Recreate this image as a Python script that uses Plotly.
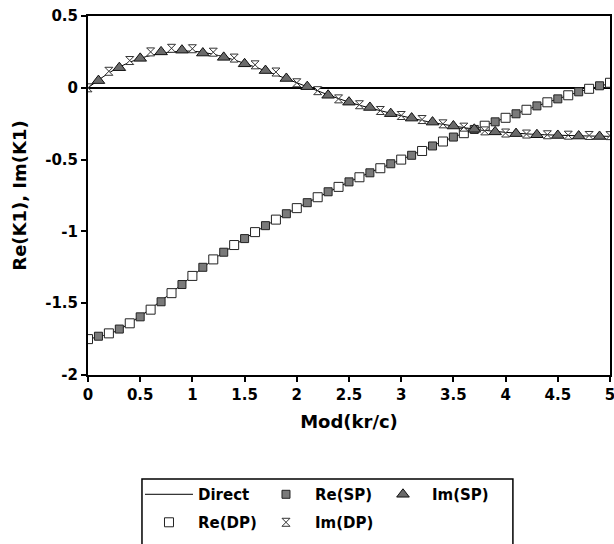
import plotly.graph_objects as go

# ---- data ----
x_sp = [0.1, 0.3, 0.5, 0.7, 0.9, 1.1, 1.3, 1.5, 1.7, 1.9, 2.1, 2.3, 2.5, 2.7, 2.9,
        3.1, 3.3, 3.5, 3.7, 3.9, 4.1, 4.3, 4.5, 4.7, 4.9]
re_sp = [-1.73, -1.68, -1.595, -1.49, -1.37, -1.25, -1.145, -1.05, -0.96, -0.877,
         -0.80, -0.724, -0.655, -0.592, -0.529, -0.47, -0.405, -0.343, -0.29, -0.237,
         -0.181, -0.126, -0.077, -0.028, 0.014]
im_sp = [0.05, 0.14, 0.205, 0.25, 0.262, 0.242, 0.212, 0.167, 0.12, 0.065,
         0.008, -0.052, -0.10, -0.137, -0.18, -0.211, -0.239, -0.266, -0.289, -0.307,
         -0.319, -0.327, -0.332, -0.336, -0.339]

x_dp = [0.0, 0.2, 0.4, 0.6, 0.8, 1.0, 1.2, 1.4, 1.6, 1.8, 2.0, 2.2, 2.4, 2.6, 2.8,
        3.0, 3.2, 3.4, 3.6, 3.8, 4.0, 4.2, 4.4, 4.6, 4.8, 5.0]
re_dp = [-1.75, -1.71, -1.64, -1.545, -1.43, -1.31, -1.195, -1.095, -1.005, -0.918,
         -0.838, -0.762, -0.69, -0.623, -0.56, -0.50, -0.44, -0.374, -0.316, -0.264,
         -0.209, -0.153, -0.101, -0.052, -0.007, 0.035]
im_dp = [0.0, 0.115, 0.19, 0.25, 0.275, 0.272, 0.248, 0.207, 0.16, 0.11,
         0.035, -0.02, -0.077, -0.118, -0.158, -0.193, -0.221, -0.251, -0.274, -0.30,
         -0.315, -0.322, -0.327, -0.33, -0.332, -0.333]

x_direct = [0.0, 0.25, 0.5, 0.75, 1.0, 1.25, 1.5, 1.75, 2.0, 2.25, 2.5, 2.75, 3.0,
            3.25, 3.5, 3.75, 4.0, 4.25, 4.5, 4.75, 5.0]
re_direct = [-1.75, -1.70, -1.59, -1.455, -1.31, -1.17, -1.05, -0.94, -0.838, -0.745,
             -0.655, -0.575, -0.50, -0.42, -0.343, -0.277, -0.209, -0.14, -0.077,
             -0.018, 0.03]
im_direct = [0.0, 0.125, 0.205, 0.245, 0.255, 0.225, 0.17, 0.105, 0.035, -0.035,
             -0.10, -0.15, -0.195, -0.235, -0.266, -0.292, -0.31, -0.323, -0.33,
             -0.335, -0.338]

x_ticks = [0, 0.5, 1, 1.5, 2, 2.5, 3, 3.5, 4, 4.5, 5]
x_ticktext = ["0", "0.5", "1", "1.5", "2", "2.5", "3", "3.5", "4", "4.5", "5"]
y_ticks = [-2, -1.5, -1, -0.5, 0, 0.5]
y_ticktext = ["-2", "-1.5", "-1", "-0.5", "0", "0.5"]

FONT = "DejaVu Sans"

fig = go.Figure()

# Direct solution lines
fig.add_trace(go.Scatter(x=x_direct, y=re_direct, mode="lines", name="Direct",
                         line=dict(color="black", width=1, shape="spline"),
                         legend="legend", legendrank=1))
fig.add_trace(go.Scatter(x=x_direct, y=im_direct, mode="lines", name="Direct",
                         line=dict(color="black", width=1, shape="spline"),
                         showlegend=False))

# DP markers
fig.add_trace(go.Scatter(x=x_dp, y=re_dp, mode="markers", name="Re(DP)",
                         marker=dict(symbol="square", size=9, color="white",
                                     line=dict(color="#222222", width=1)),
                         legend="legend2", legendrank=1))
fig.add_trace(go.Scatter(x=x_dp, y=im_dp, mode="markers", name="Im(DP)",
                         marker=dict(symbol="hourglass", size=8, color="white",
                                     line=dict(color="#333333", width=1)),
                         legend="legend2", legendrank=2))

# SP markers
fig.add_trace(go.Scatter(x=x_sp, y=re_sp, mode="markers", name="Re(SP)",
                         marker=dict(symbol="square", size=8, color="#7a7a7a",
                                     line=dict(color="#222222", width=1)),
                         legend="legend", legendrank=2))
fig.add_trace(go.Scatter(x=x_sp, y=im_sp, mode="markers", name="Im(SP)",
                         marker=dict(symbol="triangle-up", size=11, color="#6a6a6a",
                                     line=dict(color="#111111", width=1)),
                         legend="legend", legendrank=3))

legend_common = dict(orientation="h", xanchor="left", yanchor="top",
                     itemwidth=48, entrywidth=54, entrywidthmode="pixels",
                     font=dict(family=FONT, size=15, color="black", weight="bold"),
                     bgcolor="rgba(0,0,0,0)", borderwidth=0, traceorder="normal")

fig.update_layout(
    width=614, height=544,
    margin=dict(l=88, r=4, t=16, b=169, autoexpand=False),
    paper_bgcolor="white", plot_bgcolor="white",
    font=dict(family=FONT, size=15, color="black", weight="bold"),
    showlegend=True,
    legend=dict(x=0.0996, y=-0.287, **legend_common),
    legend2=dict(x=0.0996, y=-0.365, **legend_common),
    shapes=[dict(type="rect", xref="paper", yref="paper",
                 x0=0.1034, x1=0.814, y0=-0.2897, y1=-0.49,
                 line=dict(color="black", width=1.5), fillcolor="rgba(0,0,0,0)")],
    xaxis=dict(range=[0, 5], tickvals=x_ticks, ticktext=x_ticktext,
               ticks="outside", ticklen=5, tickwidth=1.5, tickcolor="black",
               ticklabeloverflow="allow",
               showline=True, linecolor="black", linewidth=2, mirror=True,
               showgrid=False, zeroline=False,
               tickfont=dict(family=FONT, size=15, color="black", weight="bold"),
               title=dict(text="Mod(kr/c)", standoff=12,
                          font=dict(family=FONT, size=18, color="black", weight="bold"))),
    yaxis=dict(range=[-2, 0.5], tickvals=y_ticks, ticktext=y_ticktext,
               ticks="outside", ticklen=5, tickwidth=1.5, tickcolor="black",
               ticklabeloverflow="allow",
               showline=True, linecolor="black", linewidth=2, mirror=True,
               showgrid=False, zeroline=True, zerolinecolor="black", zerolinewidth=1.5,
               tickfont=dict(family=FONT, size=15, color="black", weight="bold"),
               title=dict(text="Re(K1), Im(K1)", standoff=14,
                          font=dict(family=FONT, size=18, color="black", weight="bold"))),
)

fig.write_html("out.html")
